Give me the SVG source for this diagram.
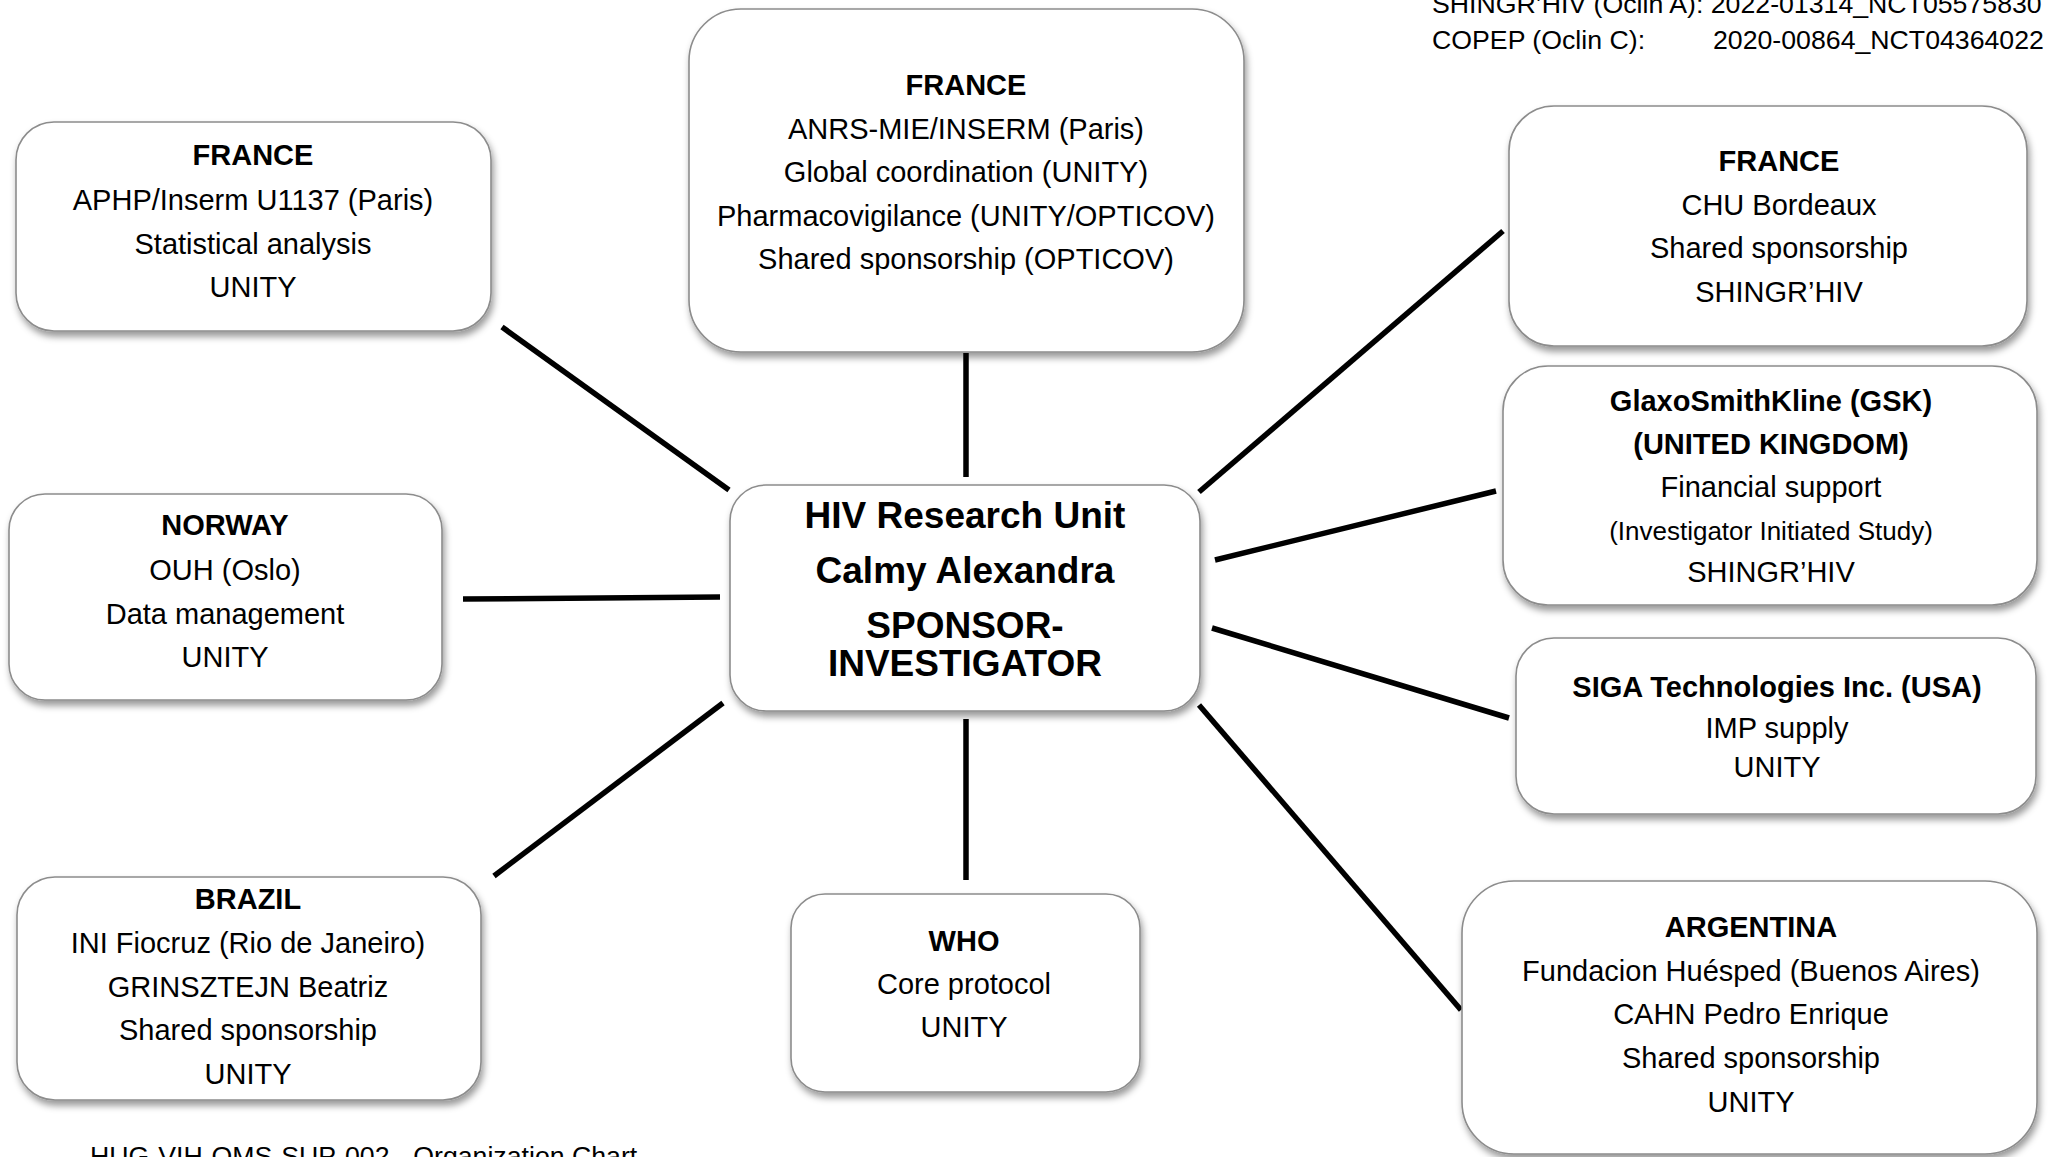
<svg xmlns="http://www.w3.org/2000/svg" width="2049" height="1157" viewBox="0 0 2049 1157">
<defs>
<filter id="sh" x="-10%" y="-10%" width="125%" height="130%">
<feDropShadow dx="2" dy="5" stdDeviation="3.5" flood-color="#000" flood-opacity="0.4"/>
</filter>
<style>
.box{fill:#fff;stroke:#8c8c8c;stroke-width:1.6;filter:url(#sh)}
text{font-family:"Liberation Sans",Arial,sans-serif;fill:#000}
.t{font-size:29px;text-anchor:middle}
.b{font-size:29px;font-weight:bold;text-anchor:middle}
.c{font-size:37px;font-weight:bold;text-anchor:middle}
.s{font-size:26px;text-anchor:middle}
.n{font-size:26.7px}
.ln{stroke:#000;stroke-width:5.5;fill:none}
</style>
</defs>
<rect width="2049" height="1157" fill="#fff"/>

<g id="connectors">
<line class="ln" x1="502" y1="327" x2="729" y2="490"/>
<line class="ln" x1="966" y1="353" x2="966" y2="477"/>
<line class="ln" x1="1199" y1="492" x2="1503" y2="231"/>
<line class="ln" x1="1215" y1="560" x2="1496" y2="491"/>
<line class="ln" x1="1212" y1="628" x2="1509" y2="718"/>
<line class="ln" x1="1199" y1="705" x2="1461" y2="1010"/>
<line class="ln" x1="966" y1="719" x2="966" y2="880"/>
<line class="ln" x1="723" y1="703" x2="494" y2="876"/>
<line class="ln" x1="463" y1="599" x2="720" y2="597"/>
</g>

<g id="node-france-aphp">
<rect class="box" x="16" y="122" width="475" height="209" rx="38"/>
<text class="b" x="253" y="165">FRANCE</text>
<text class="t" x="253" y="210">APHP/Inserm U1137 (Paris)</text>
<text class="t" x="253" y="254">Statistical analysis</text>
<text class="t" x="253" y="297">UNITY</text>
</g>

<g id="node-france-anrs">
<rect class="box" x="689" y="9" width="555" height="343" rx="52"/>
<text class="b" x="966" y="95">FRANCE</text>
<text class="t" x="966" y="139">ANRS-MIE/INSERM (Paris)</text>
<text class="t" x="966" y="182">Global coordination (UNITY)</text>
<text class="t" x="966" y="226">Pharmacovigilance (UNITY/OPTICOV)</text>
<text class="t" x="966" y="269">Shared sponsorship (OPTICOV)</text>
</g>

<g id="node-france-bordeaux">
<rect class="box" x="1509" y="106" width="518" height="240" rx="45"/>
<text class="b" x="1779" y="171">FRANCE</text>
<text class="t" x="1779" y="215">CHU Bordeaux</text>
<text class="t" x="1779" y="258">Shared sponsorship</text>
<text class="t" x="1779" y="302">SHINGR’HIV</text>
</g>

<g id="node-gsk">
<rect class="box" x="1503" y="366" width="534" height="239" rx="45"/>
<text class="b" x="1771" y="411">GlaxoSmithKline (GSK)</text>
<text class="b" x="1771" y="454">(UNITED KINGDOM)</text>
<text class="t" x="1771" y="497">Financial support</text>
<text class="s" x="1771" y="540">(Investigator Initiated Study)</text>
<text class="t" x="1771" y="582">SHINGR’HIV</text>
</g>

<g id="node-siga">
<rect class="box" x="1516" y="638" width="520" height="176" rx="38"/>
<text class="b" x="1777" y="697">SIGA Technologies Inc. (USA)</text>
<text class="t" x="1777" y="738">IMP supply</text>
<text class="t" x="1777" y="777">UNITY</text>
</g>

<g id="node-argentina">
<rect class="box" x="1462" y="881" width="575" height="273" rx="52"/>
<text class="b" x="1751" y="937">ARGENTINA</text>
<text class="t" x="1751" y="981">Fundacion Huésped (Buenos Aires)</text>
<text class="t" x="1751" y="1024">CAHN Pedro Enrique</text>
<text class="t" x="1751" y="1068">Shared sponsorship</text>
<text class="t" x="1751" y="1112">UNITY</text>
</g>

<g id="node-center">
<rect class="box" x="730" y="485" width="470" height="226" rx="36"/>
<text class="c" x="965" y="528">HIV Research Unit</text>
<text class="c" x="965" y="583">Calmy Alexandra</text>
<text class="c" x="965" y="638">SPONSOR-</text>
<text class="c" x="965" y="676">INVESTIGATOR</text>
</g>

<g id="node-norway">
<rect class="box" x="9" y="494" width="433" height="206" rx="36"/>
<text class="b" x="225" y="535">NORWAY</text>
<text class="t" x="225" y="580">OUH (Oslo)</text>
<text class="t" x="225" y="624">Data management</text>
<text class="t" x="225" y="667">UNITY</text>
</g>

<g id="node-brazil">
<rect class="box" x="17" y="877" width="464" height="223" rx="38"/>
<text class="b" x="248" y="909">BRAZIL</text>
<text class="t" x="248" y="953">INI Fiocruz (Rio de Janeiro)</text>
<text class="t" x="248" y="997">GRINSZTEJN Beatriz</text>
<text class="t" x="248" y="1040">Shared sponsorship</text>
<text class="t" x="248" y="1084">UNITY</text>
</g>

<g id="node-who">
<rect class="box" x="791" y="894" width="349" height="198" rx="34"/>
<text class="b" x="964" y="951">WHO</text>
<text class="t" x="964" y="994">Core protocol</text>
<text class="t" x="964" y="1037">UNITY</text>
</g>

<g id="notes">
<text class="n" x="1432" y="13">SHINGR’HIV (Oclin A): 2022-01314_NCT05575830</text>
<text class="n" x="1432" y="49">COPEP (Oclin C):</text>
<text class="n" x="1713" y="49">2020-00864_NCT04364022</text>
<text class="n" x="90" y="1165">HUG-VIH-OMS-SUP-002 - Organization Chart</text>
</g>
</svg>
